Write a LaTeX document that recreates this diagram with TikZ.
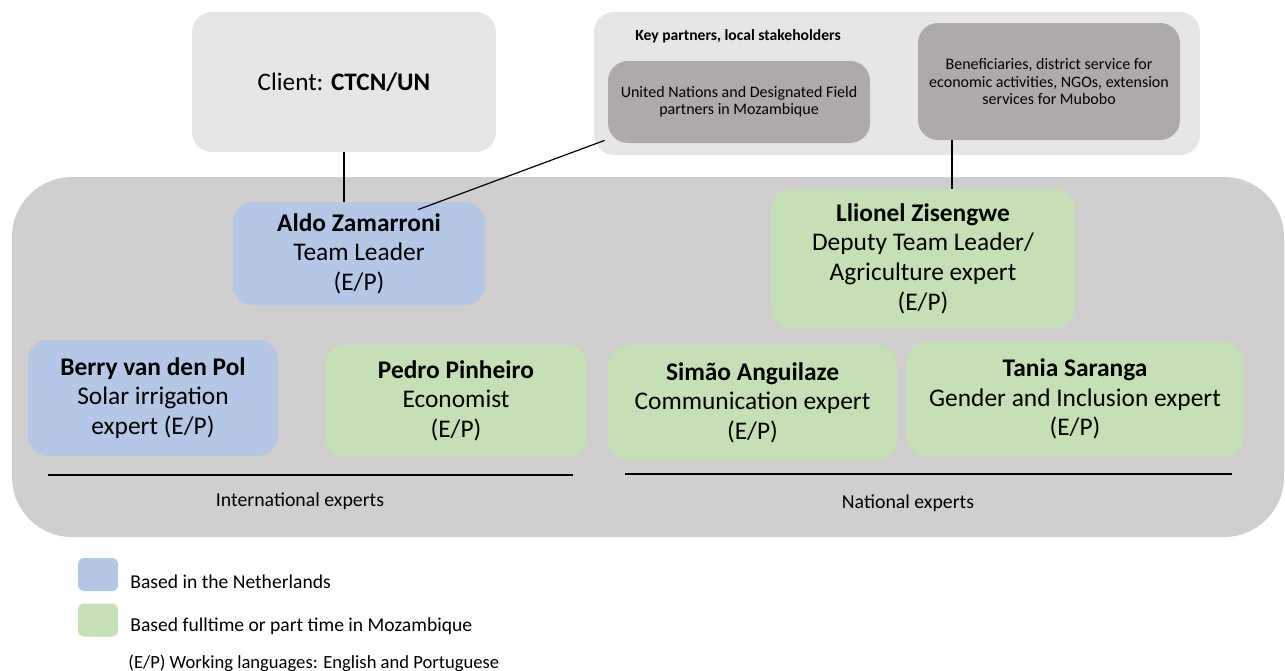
\documentclass[tikz,border=0pt]{standalone}
\usepackage{fontspec}
\setmainfont{Carlito}
\usetikzlibrary{positioning, calc}
\definecolor{clientgrey}{RGB}{231, 230, 230}
\definecolor{teamgrey}{RGB}{208, 206, 206}
\definecolor{partnergrey}{RGB}{174, 170, 170}
\definecolor{nlblue}{RGB}{180, 199, 231}
\definecolor{mzgreen}{RGB}{197, 224, 180}

\tikzset{
  expert/.style={rounded corners=10pt, align=center, inner sep=0pt, font=\fontsize{12.7}{14.8}\selectfont},
  partner/.style={fill=partnergrey, rounded corners=10pt, align=center, inner sep=0pt, font=\fontsize{8}{8.6}\selectfont},
  section/.style={font=\fontsize{9.9}{11}\selectfont, inner sep=0pt},
  legendbox/.style={fill=#1, rounded corners=3pt, minimum width=20pt, minimum height=16.5pt, inner sep=0pt},
  legendtext/.style={anchor=west, inner sep=0pt, font=\fontsize{9.8}{11}\selectfont},
  link/.style={draw=black, line width=0.6pt}
}

\begin{document}
\begin{tikzpicture}[x=0.5pt, y=-0.5pt]
  \useasboundingbox (0,0) rectangle (1285,670);

  % containers
  \fill[clientgrey, rounded corners=10pt] (594,12) rectangle (1200,155);
  \fill[teamgrey, rounded corners=30pt] (12,177) rectangle (1284,537);

  % client and partners
  \node[fill=clientgrey, rounded corners=10pt, minimum width=152pt, minimum height=70pt, inner sep=0pt,
        font=\fontsize{12.6}{15}\selectfont] (client) at (344,82) {Client: \textbf{CTCN/UN}};
  \node[anchor=west, inner sep=0pt, font=\bfseries\fontsize{7.8}{8.6}\selectfont] (keylbl) at (635,36) {Key partners, local stakeholders};
  \node[partner, minimum width=131pt, minimum height=41pt] (un) at (739,102)
    {United Nations and Designated Field\\partners in Mozambique};
  \node[partner, minimum width=131pt, minimum height=58.5pt] (bene) at (1049,81.5)
    {Beneficiaries, district service for\\economic activities, NGOs, extension\\services for Mubobo};

  % experts
  \node[expert, fill=nlblue, minimum width=126pt, minimum height=51.5pt] (aldo) at (359,253.5)
    {\textbf{Aldo Zamarroni}\\Team Leader\\(E/P)};
  \node[expert, fill=mzgreen, minimum width=152pt, minimum height=69.5pt] (llionel) at (923,258.5)
    {\textbf{Llionel Zisengwe}\\Deputy Team Leader/\\Agriculture expert\\(E/P)};
  \node[expert, fill=nlblue, minimum width=125pt, minimum height=58pt] (berry) at (153,398)
    {\textbf{Berry van den Pol}\\Solar irrigation\\expert (E/P)};
  \node[expert, fill=mzgreen, minimum width=131pt, minimum height=55.5pt] (pedro) at (456,400.5)
    {\textbf{Pedro Pinheiro}\\Economist\\(E/P)};
  \node[expert, fill=mzgreen, minimum width=144.5pt, minimum height=57.5pt] (simao) at (752.5,402.5)
    {\textbf{Simão Anguilaze}\\Communication expert\\(E/P)};
  \node[expert, fill=mzgreen, minimum width=169pt, minimum height=57pt] (tania) at (1075,399)
    {\textbf{Tania Saranga}\\Gender and Inclusion expert\\(E/P)};

  % connectors
  \draw[link] (client.south) -- (client.south |- aldo.north);
  \draw[link] ([shift={(59,8)}]aldo.north) -- ([shift={(-3,-3)}]un.south west);
  \draw[link] ([xshift=-48.5pt]bene.south) -- ([xshift=-48.5pt]bene.south |- llionel.north);

  % groups
  \draw[link] (48,475) -- (573,475);
  \draw[link] (625,474) -- (1232,474);
  \node[section] (intl) at (300,501) {International experts};
  \node[section] (natl) at (908,503) {National experts};

  % legend
  \node[legendbox=nlblue] (keynl) at (98,574.5) {};
  \node[legendtext] (keynltxt) at (130,582) {Based in the Netherlands};
  \node[legendbox=mzgreen] (keymz) at (98,620) {};
  \node[legendtext] (keymztxt) at (130,626) {Based fulltime or part time in Mozambique};
  \node[legendtext, font=\fontsize{9.3}{11}\selectfont] (keylang) at (128,663) {(E/P) Working languages: English and Portuguese};
\end{tikzpicture}
\end{document}
